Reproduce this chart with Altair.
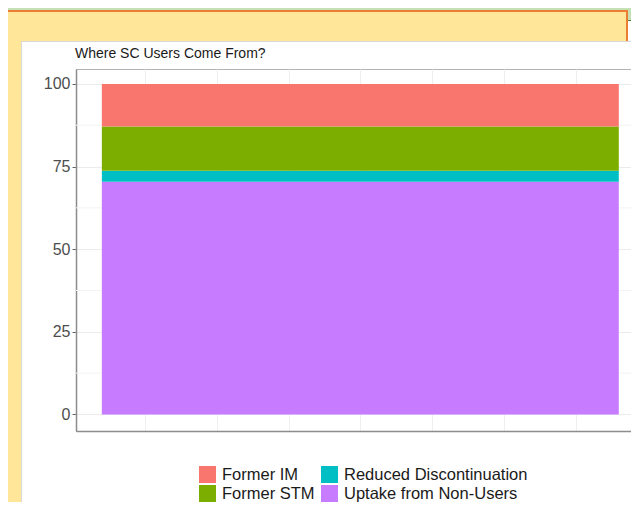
import altair as alt
import pandas as pd

# ---- data ----
categories = ["Uptake from Non-Users", "Reduced Discontinuation", "Former STM", "Former IM"]
values = [70.4, 3.3, 13.4, 12.9]
stack_order = [0, 1, 2, 3]
bar_start = [0.4]
bar_end = [7.6]
legend_order = ["Former IM", "Former STM", "Reduced Discontinuation", "Uptake from Non-Users"]
legend_colors = ["#F8766D", "#7CAE00", "#00BFC4", "#C77CFF"]
y_ticks = [0, 25, 50, 75, 100]
y_minor = [12.5, 37.5, 62.5, 87.5]
x_grid = [1, 2, 3, 4, 5, 6, 7]
title_text = "Where SC Users Come From?"

df = pd.DataFrame({"category": categories, "value": values, "order": stack_order})
df = df.sort_values("order")
df["y2"] = df["value"].cumsum()
df["y1"] = df["y2"] - df["value"]
df["x1"] = bar_start[0]
df["x2"] = bar_end[0]

FONT = "Liberation Sans"
W, H = 555, 362

yscale = alt.Scale(domain=[-5, 104.5], nice=False, zero=False)
xscale = alt.Scale(domain=[0.04, 7.77], nice=False, zero=False)
yaxis = alt.Axis(values=y_ticks, title=None, labelFont=FONT, labelFontSize=16,
                 labelColor="#4d4d4d", tickColor="#666666", tickSize=4, labelPadding=2,
                 domainColor="#8c8c8c", domainWidth=1.5, gridColor="#ebebeb", gridWidth=1)
xaxis = alt.Axis(values=x_grid, title=None, labels=False, ticks=False,
                 domainColor="#8c8c8c", domainWidth=1.5, gridColor="#efefef", gridWidth=1)

minor = alt.Chart(pd.DataFrame({"g": y_minor})).mark_rule(color="#f3f3f3", strokeWidth=1).encode(
    y=alt.Y("g:Q", scale=yscale, axis=yaxis)
)

bars = alt.Chart(df).mark_rect().encode(
    x=alt.X("x1:Q", scale=xscale, axis=xaxis),
    x2="x2:Q",
    y=alt.Y("y1:Q", scale=yscale, axis=yaxis),
    y2="y2:Q",
    color=alt.Color("category:N",
                    scale=alt.Scale(domain=legend_order, range=legend_colors),
                    legend=alt.Legend(orient="none", legendX=123, legendY=397, columns=2,
                                      title=None, symbolType="square", symbolSize=289,
                                      symbolStrokeWidth=0, symbolOpacity=1,
                                      labelFont=FONT, labelFontSize=16.5, labelColor="#1a1a1a",
                                      labelOffset=6, columnPadding=6, rowPadding=2,
                                      padding=0, labelLimit=300)),
)

title = alt.Chart(pd.DataFrame({"t": [title_text]})).mark_text(
    align="left", baseline="alphabetic", font=FONT, fontSize=14, color="#1a1a1a"
).encode(x=alt.value(-1), y=alt.value(-11), text="t:N")


def deco(x1, x2, y1, y2, color):
    return alt.Chart(alt.Data(values=[{"k": 0}])).mark_rect(color=color).encode(
        x=alt.value(x1), x2=alt.value(x2), y=alt.value(y1), y2=alt.value(y2)
    )


decor = [
    deco(-68, 551, -61, -28, "#ffe699"),   # yellow top band
    deco(-68, -55, -28, 441, "#ffe699"),   # yellow left band
    deco(-68, 563, -61, -59, "#c5e0b4"),   # green strip
    deco(-68, 552, -59, -57, "#ed7d31"),   # orange top border
    deco(550, 552, -59, -28, "#ed7d31"),   # orange right border
    deco(552, 563, -61, -49, "#c5e0b4"),   # green box right
    deco(552, 563, -49, -48, "#548235"),   # green box border
    deco(-55, 563, -28, -27, "#d9d9d9"),   # white panel top edge
    deco(-55, -54, -28, 441, "#d9d9d9"),   # white panel left edge
]

chart = alt.layer(*decor, minor, bars, title).properties(
    width=W, height=H,
    autosize=alt.AutoSizeParams(type="none"),
    padding={"left": 68, "top": 61, "right": 0, "bottom": 71},
    background="white",
).configure_view(stroke="#b3b3b3", strokeWidth=1)

chart.save("out.html", embed_options={"renderer": "svg", "actions": False})
